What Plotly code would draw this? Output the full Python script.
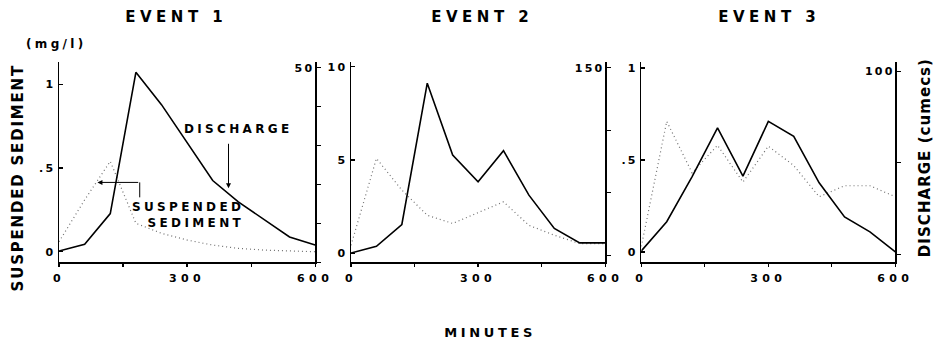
import plotly.graph_objects as go

# ---------------- data ----------------
minutes = [0, 60, 120, 180, 240, 300, 360, 420, 480, 540, 600]

sed1 = [0.06, 0.31, 0.54, 0.17, 0.11, 0.07, 0.04, 0.02, 0.01, 0.005, 0.0]
dis1 = [2.9, 4.6, 12.5, 48.8, 40.5, 30.8, 21.0, 15.5, 11.0, 6.5, 4.4]

sed2 = [0.43, 5.09, 3.39, 2.04, 1.6, 2.17, 2.76, 1.5, 0.97, 0.52, 0.52]
dis2 = [1.8, 7.2, 24.6, 137.7, 80.2, 58.8, 83.7, 48.1, 21.4, 9.9, 9.9]

sed3 = [0.03, 0.71, 0.43, 0.58, 0.38, 0.575, 0.47, 0.30, 0.36, 0.36, 0.30]
dis3 = [1.8, 17.8, 42.5, 69.1, 42.7, 72.7, 64.5, 39.1, 20.4, 12.2, 1.3]

event_titles = ["EVENT 1", "EVENT 2", "EVENT 3"]
x_tickvals = [0, 150, 300, 450, 600]
x_ticktext = ["0", "", "300", "", "600"]

sed_ticks = [[0, 0.5, 1], [0, 5, 10], [0, 0.5, 1]]
sed_ticktext = [["0", ".5", "1"], ["0", "5", "10"], ["0", ".5", "1"]]
dis_ticks = [[0, 10, 20, 30, 40, 50], [0, 50, 100, 150], [0, 50, 100]]
dis_ticktext = [["", "", "", "", "", "50"], ["", "", "", "150"], ["", "", "100"]]

sed_ranges = [[-0.0625, 1.134], [-0.48, 10.27], [-0.056, 1.034]]
dis_ranges = [[0, 51.5], [-5.6, 154.8], [-4.4, 105.3]]

# ---------------- layout geometry ----------------
W, H = 945, 342
x_doms_px = [(56, 316.5), (353, 611.5), (648.3, 906.7)]
y_dom = [1 - 262 / H, 1 - 61 / H]

FONT = "DejaVu Sans"
BOLD = dict(family=FONT, size=11, color="black", weight="bold")

fig = go.Figure()
seds = [sed1, sed2, sed3]
diss = [dis1, dis2, dis3]

for i in range(3):
    xa = "x" if i == 0 else f"x{i+1}"
    ya_l = "y" if i == 0 else f"y{2*i+1}"
    ya_r = f"y{2*i+2}"
    fig.add_trace(go.Scatter(x=minutes, y=seds[i], xaxis=xa, yaxis=ya_l, mode="lines",
                             line=dict(color="#707070", width=1.2, dash="1px,3px"),
                             showlegend=False, hoverinfo="skip"))
    fig.add_trace(go.Scatter(x=minutes, y=diss[i], xaxis=xa, yaxis=ya_r, mode="lines",
                             line=dict(color="black", width=1.6),
                             showlegend=False, hoverinfo="skip"))

layout = dict(
    width=W, height=H,
    margin=dict(l=0, r=0, t=0, b=0),
    paper_bgcolor="white", plot_bgcolor="white",
    showlegend=False,
)

for i in range(3):
    xk = "xaxis" if i == 0 else f"xaxis{i+1}"
    ylk = "yaxis" if i == 0 else f"yaxis{2*i+1}"
    yrk = f"yaxis{2*i+2}"
    ya_l = "y" if i == 0 else f"y{2*i+1}"
    xa = "x" if i == 0 else f"x{i+1}"
    d0, d1 = x_doms_px[i]
    layout[xk] = dict(domain=[d0 / W, d1 / W], anchor=ya_l, range=[0, 600],
                      showline=True, linecolor="black", linewidth=1.5,
                      ticks="outside", ticklen=3, tickcolor="black", tickwidth=1.2,
                      tickvals=x_tickvals, ticktext=x_ticktext,
                      tickfont=BOLD, ticklabelstandoff=2, ticklabeloverflow="allow",
                      showgrid=False, zeroline=False, fixedrange=True)
    layout[ylk] = dict(domain=y_dom, anchor=xa, range=sed_ranges[i],
                       showline=True, linecolor="black", linewidth=1.5,
                       ticks="inside", ticklen=4, tickcolor="black", tickwidth=1.2,
                       tickvals=sed_ticks[i], ticktext=sed_ticktext[i],
                       tickfont=BOLD, ticklabeloverflow="allow",
                       showgrid=False, zeroline=False, fixedrange=True)
    layout[yrk] = dict(overlaying=ya_l, side="right", anchor=xa, range=dis_ranges[i],
                       showline=True, linecolor="black", linewidth=1.5,
                       ticks="outside", ticklen=4, tickcolor="black", tickwidth=1.2,
                       tickvals=dis_ticks[i], ticktext=dis_ticktext[i],
                       ticklabelposition="inside", ticklabeloverflow="allow",
                       tickfont=BOLD, showgrid=False, zeroline=False, fixedrange=True)

fig.update_layout(**layout)


def px_ann(text, x, y, size, angle=0):
    fig.add_annotation(text=text, x=x / W, y=1 - y / H, xref="paper", yref="paper",
                       showarrow=False, textangle=angle,
                       font=dict(family=FONT, size=size, color="black", weight="bold"),
                       xanchor="center", yanchor="middle")


for t, cx in zip(event_titles, [175, 487, 779]):
    px_ann(t, cx, 16, 15)
px_ann("(mg/l)", 53, 43, 12)
px_ann("SUSPENDED SEDIMENT", 15, 177, 15, -90)
px_ann("DISCHARGE (cumecs)", 936, 157, 15, -90)
px_ann("MINUTES", 494, 332, 13)
px_ann("DISCHARGE", 239, 128, 12)
px_ann("SUSPENDED", 187, 207, 12)
px_ann("SEDIMENT", 195, 223, 12)

# arrow to discharge curve (event 1)
fig.add_annotation(x=397, y=19.0, xref="x", yref="y2", text="", showarrow=True,
                   ax=0, ay=-46, arrowhead=2, arrowsize=1, arrowwidth=1, arrowcolor="black")
# bracket arrow to suspended sediment curve (event 1)
fig.add_shape(type="line", xref="x", yref="y", x0=189, x1=189, y0=0.325, y1=0.414,
              line=dict(color="black", width=1))
fig.add_annotation(x=90, y=0.414, xref="x", yref="y", axref="x", ayref="y",
                   ax=189, ay=0.414, text="", showarrow=True,
                   arrowhead=2, arrowsize=1, arrowwidth=1, arrowcolor="black")

post = """
(function(){
  document.body.style.margin = '0';
  var sp = {'EVENT 1':'0.3em','EVENT 2':'0.3em','EVENT 3':'0.3em',
            'SUSPENDED SEDIMENT':'0.12em','DISCHARGE (cumecs)':'0.07em'};
  document.querySelectorAll('g.annotation text').forEach(function(t){
    t.style.letterSpacing = sp[t.textContent] || '0.28em';
  });
  document.querySelectorAll('g[class$="tick"] text').forEach(function(t){
    var c = t.parentNode.getAttribute('class') || '';
    t.style.letterSpacing = (c.charAt(0) === 'x') ? '0.4em' : '0.2em';
  });
})();
"""

fig.write_html("out.html", post_script=post, config={"staticPlot": True})
